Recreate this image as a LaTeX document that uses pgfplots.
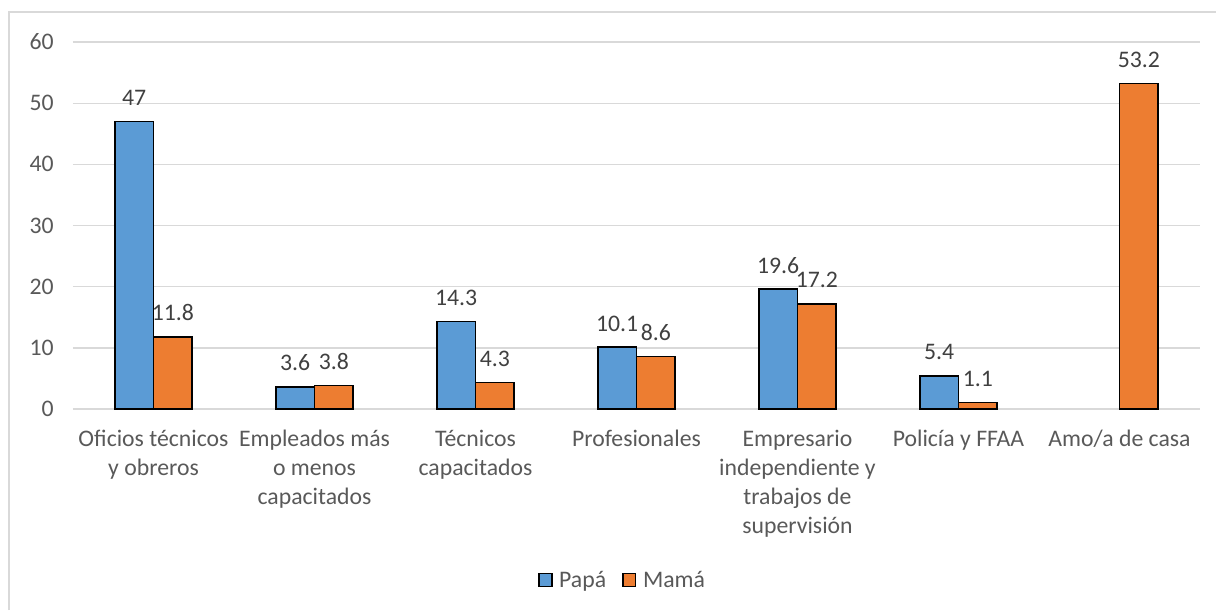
\documentclass[border=0pt]{standalone}
\usepackage{pgfplots}
\pgfplotsset{compat=1.18}
\usepackage{fontspec}
\setmainfont{Carlito}
\definecolor{papa}{HTML}{5B9BD5}
\definecolor{mama}{HTML}{ED7D31}
\definecolor{txt}{HTML}{595959}
\definecolor{lab}{HTML}{404040}
\definecolor{gridc}{HTML}{D9D9D9}
\begin{document}
\begin{tikzpicture}
\begin{axis}[
  scale only axis, width=845.25pt, height=275.25pt,
  ymin=0, ymax=60, ytick={0,10,...,60},
  xmin=-0.5, xmax=6.5, xtick={0,...,6},
  xticklabels={{Oficios técnicos\\y obreros},{Empleados más\\o menos\\capacitados},{Técnicos\\capacitados},{Profesionales},{Empresario\\independiente y\\trabajos de\\supervisión},{Policía y FFAA},{Amo/a de casa}},
  x tick label style={align=center, text=txt, font=\fontsize{17.8}{21.75}\selectfont, yshift=-12pt},
  y tick label style={text=txt, font=\fontsize{17.8}{21}\selectfont, xshift=-11pt},
  /pgf/number format/assume math mode=true,
  axis line style={draw=none},
  major tick length=0pt,
  ymajorgrids, grid style={gridc, line width=1pt},
  ybar, bar width=0.24, bar shift=0pt,
  nodes near coords,
  every node near coord/.style={text=lab, font=\fontsize{17.8}{21}\selectfont, yshift=8pt},
  point meta=explicit symbolic,
  legend style={at={(0.488,-0.466)}, anchor=center, draw=none, legend columns=2,
    font=\fontsize{17.8}{21}\selectfont, text=txt,
    /tikz/every odd column/.append style={column sep=3pt},
    /tikz/every even column/.append style={column sep=10pt}},
  legend image code/.code={\draw[#1, line width=1.1pt, draw=black] (0pt,-4.8pt) rectangle (9.6pt,4.8pt);},
]
\addplot[fill=papa, draw=black, line width=1.1pt] coordinates {
 (-0.12,47) [47] (0.88,3.6) [3.6] (1.88,14.3) [14.3] (2.88,10.1) [10.1] (3.88,19.6) [19.6] (4.88,5.4) [5.4]};
\addplot[fill=mama, draw=black, line width=1.1pt] coordinates {
 (0.12,11.8) [11.8] (1.12,3.8) [3.8] (2.12,4.3) [4.3] (3.12,8.6) [8.6] (4.12,17.2) [17.2] (5.12,1.1) [1.1] (6.12,53.2) [53.2]};
\legend{Papá,Mamá}
\coordinate (O) at (axis cs:-0.5,0);
\end{axis}
\pgfresetboundingbox
\begin{scope}[x=0.75pt,y=0.75pt,shift={(O)}]
\path[use as bounding box] (-73,-201) rectangle (1143,409);
\draw[gridc, line width=1.5pt] (-64,-201) -- (-64,397) -- (1143,397);
\end{scope}
\end{tikzpicture}
\end{document}
